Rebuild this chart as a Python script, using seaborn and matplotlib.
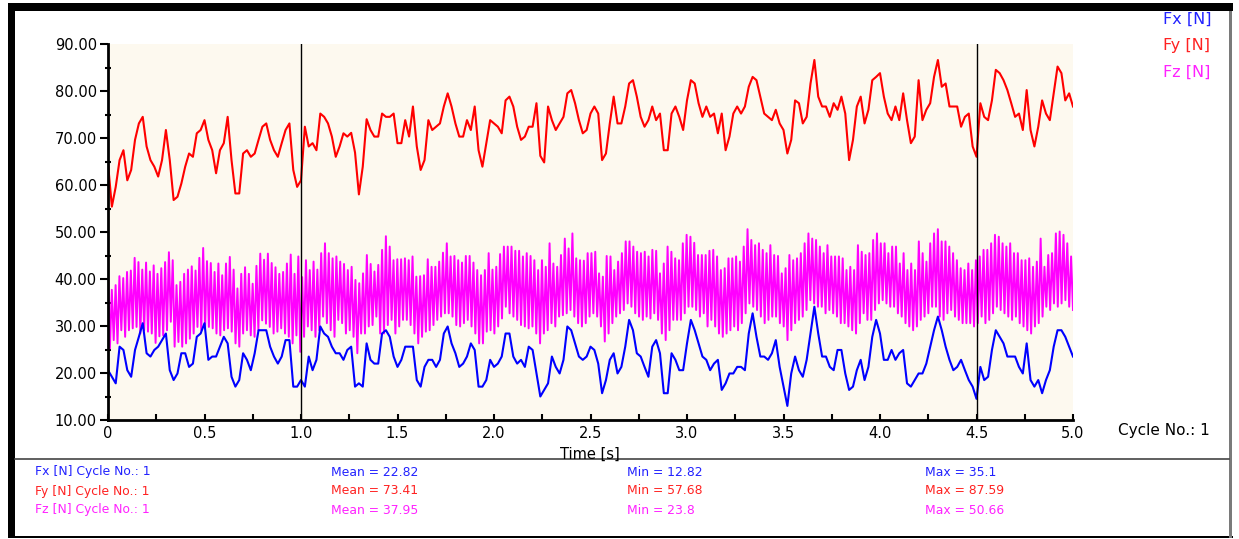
import numpy as np
import pandas as pd
import seaborn as sns
import matplotlib.pyplot as plt
from matplotlib.patches import Rectangle
from matplotlib.lines import Line2D

# Fx / Fy every 0.02 s (0 ... 5.0 s)
fx_vals = [
    20.6, 19.2, 17.8, 25.6, 24.9, 20.6, 19.2, 24.9, 27.7, 30.6,
    24.2, 23.5, 24.9, 25.6, 27.0, 28.4, 20.6, 18.5, 19.9, 24.2,
    24.2, 21.3, 22.0, 27.7, 28.4, 30.6, 22.8, 23.5, 23.5, 25.6,
    27.7, 26.3, 19.2, 17.1, 18.5, 24.2, 22.8, 20.6, 24.2, 29.1,
    29.1, 29.1, 25.6, 23.5, 22.0, 23.5, 27.0, 27.0, 17.1, 17.1,
    18.5, 17.1, 23.5, 20.6, 22.8, 29.9, 28.4, 27.7, 25.6, 24.2,
    24.2, 22.8, 24.9,
    25.6, 17.1, 17.8, 17.1, 26.3, 22.8, 22.0, 22.0, 28.4, 29.1,
    27.7, 23.5, 21.3, 22.8, 25.6, 25.6, 25.6, 18.5, 17.1, 21.3,
    22.8, 22.8, 21.3, 22.8, 28.4, 29.9, 26.3, 24.2, 21.3, 22.0,
    23.5, 26.3, 24.9, 17.1, 17.1, 18.5, 22.8, 21.3, 22.0, 23.5,
    28.4, 28.4, 23.5, 22.0, 22.8, 21.3, 25.6, 24.9, 19.9, 15.0,
    16.4, 17.8, 23.5, 21.3, 19.9, 22.8, 29.9, 29.1, 26.3, 23.5,
    22.8,
    23.5, 25.6, 24.9, 22.0, 15.7, 18.5, 22.8, 24.2, 19.9, 21.3,
    25.6, 31.3, 29.1, 24.2, 23.5, 21.3, 19.2, 25.6, 27.0, 24.2,
    15.7, 15.7, 24.2, 22.8, 20.6, 20.6, 26.3, 31.3, 29.1, 26.3,
    23.5, 22.8, 20.6, 22.0, 22.8, 16.4, 17.8, 19.9, 19.9, 21.3,
    21.3, 20.6, 28.4, 32.7, 27.7, 23.5, 23.5, 22.8, 24.2, 27.0,
    21.3, 17.1, 13.0, 19.9, 23.5, 20.6, 19.2, 22.8, 28.4, 34.1,
    28.4, 23.5,
    23.5, 21.3, 20.6, 24.9, 24.9, 19.9, 16.4, 17.1, 20.6, 22.8,
    18.5, 21.3, 27.7, 31.3, 28.4, 22.8, 22.8, 24.9, 22.8, 24.2,
    24.9, 17.8, 17.1, 18.5, 19.9, 19.9, 22.0, 25.6, 29.1, 32.0,
    29.1, 25.6, 22.8, 20.6, 21.3, 22.8, 20.6, 18.5, 17.1, 14.5,
    21.3, 18.5, 19.2, 24.9, 29.1, 27.7, 26.3, 23.5, 23.5, 23.5,
    21.3, 19.9, 26.3, 18.5, 17.1, 18.5, 15.7, 18.5, 20.6, 25.6,
    29.1, 29.1, 27.7, 25.6, 23.5,
]
fy_vals = [
    64.6, 55.4, 59.6, 65.3, 67.4, 61.0, 63.2, 69.6, 73.1, 74.5,
    68.2, 65.3, 63.9, 61.8, 65.3, 71.7, 65.3, 56.8, 57.5, 60.3,
    63.9, 66.7, 66.0, 71.0, 71.7, 73.8, 69.6, 67.4, 62.5, 67.4,
    68.9, 74.5, 65.3, 58.2, 58.2, 66.7, 67.4, 66.0, 66.7, 69.6,
    72.4, 73.1, 69.6, 67.4, 66.0, 68.9, 71.7, 73.1, 63.2, 59.6,
    61.0, 72.4, 68.2, 68.9, 67.4, 75.2, 74.5, 73.1, 70.3, 66.0,
    68.2, 71.0, 70.3,
    71.1, 66.9, 58.0, 63.9, 74.0, 71.7, 70.3, 70.3, 75.2, 74.5,
    74.5, 75.2, 68.9, 68.9, 73.8, 70.3, 76.7, 68.2, 63.2, 65.3,
    73.8, 71.7, 72.4, 73.1, 76.7, 79.5, 76.7, 73.1, 70.3, 70.3,
    73.8, 71.7, 76.7, 67.4, 63.9, 68.9, 73.8, 73.1, 72.4, 71.0,
    78.0, 78.8, 76.7, 72.4, 69.6, 70.3, 72.4, 72.4, 77.4, 66.2,
    64.8, 76.7, 73.8, 71.7, 73.1, 74.5, 79.5, 80.2, 77.4, 73.8,
    71.0,
    71.7, 75.2, 76.7, 75.2, 65.3, 66.7, 73.1, 78.8, 73.1, 73.1,
    76.7, 81.6, 82.3, 78.8, 74.5, 72.4, 73.8, 76.7, 73.8, 75.2,
    67.4, 67.4, 75.2, 76.7, 74.5, 71.7, 78.0, 82.3, 81.6, 77.4,
    74.5, 76.7, 74.5, 75.2, 71.0, 75.2, 67.4, 70.3, 75.2, 76.7,
    75.2, 76.7, 80.9, 83.0, 82.3, 78.8, 75.2, 74.5, 73.8, 76.0,
    73.1, 71.7, 66.7, 69.6, 78.0, 77.4, 73.1, 74.5, 81.6, 86.6,
    78.8, 76.7,
    76.7, 74.5, 77.4, 76.0, 78.8, 75.2, 65.3, 69.6, 76.7, 78.8,
    73.1, 76.0, 82.3, 83.0, 83.8, 78.8, 75.2, 73.8, 76.7, 73.8,
    79.5, 73.8, 68.9, 70.3, 82.3, 73.8, 76.0, 77.4, 83.0, 86.6,
    80.9, 81.6, 76.7, 76.7, 76.7, 72.4, 74.5, 75.2, 68.2, 66.0,
    77.4, 74.5, 73.8, 78.0, 84.5, 83.8, 82.3, 80.2, 77.4, 74.5,
    75.2, 71.7, 80.2, 71.7, 68.2, 72.4, 78.0, 75.2, 73.8, 79.5,
    85.2, 83.8, 78.0, 79.5, 76.7,
]
# Fz swings at ~50 Hz: top and bottom of every cycle
fz_peaks = [
    41.1, 37.7, 38.7, 40.6, 40.2, 41.5, 41.8, 44.5, 43.6, 42.0,
    43.5, 41.6, 42.9, 41.1, 42.3, 43.6, 45.7, 44.0, 38.7, 39.4,
    41.1, 42.0, 42.7, 41.8, 44.5, 46.6, 43.8, 43.4, 41.5, 43.3,
    40.8, 43.3, 44.7, 42.0, 38.0, 41.1, 42.5, 41.1, 39.0, 42.8,
    45.4, 44.1, 45.4, 43.4, 42.5, 41.1, 41.5, 43.3, 45.2, 41.1,
    44.8, 40.4,
    44.0, 41.9, 43.7, 42.0, 45.5, 47.6, 45.5, 44.4, 44.8, 43.7,
    43.2, 41.9,
    42.6, 39.8, 39.1, 41.2, 45.1, 43.2, 41.6, 43.0, 46.2, 49.1,
    46.9, 44.0, 44.2, 44.2, 44.4, 44.0, 44.8, 40.5, 40.6, 40.8,
    44.2, 42.6, 42.6, 43.7, 45.6, 47.6, 44.8, 44.9, 44.0, 43.5,
    44.9, 44.9, 43.5, 41.9, 40.8, 41.9, 45.5, 42.0, 42.6, 45.3,
    46.9, 46.9, 46.9, 46.0, 46.0, 44.8, 45.5, 44.9, 44.0, 41.9,
    44.0, 42.6, 47.6, 43.3, 42.6, 45.1, 48.6, 46.5, 49.7, 44.4,
    44.0, 43.9,
    45.5, 45.5, 45.8, 41.2, 40.5, 44.9, 44.8, 41.9, 43.7, 45.5,
    48.0, 48.0, 46.9, 45.8, 45.5, 45.8, 44.8, 46.2, 46.0, 41.2,
    43.3, 46.9, 45.8, 44.4, 44.0, 47.6, 49.4, 49.0, 47.7, 45.1,
    45.1, 45.1, 46.0, 46.2, 44.8, 41.9, 42.3, 44.4, 44.4, 44.8,
    43.7, 46.9, 50.6, 48.3, 47.2, 47.6, 46.2, 45.5, 47.2, 45.1,
    44.9, 41.2, 42.3, 45.1, 44.0, 44.4, 45.5, 47.6, 49.7, 48.6,
    48.3, 46.9, 45.5,
    47.2, 44.8, 44.8, 44.8, 44.4, 41.9, 42.6, 41.9, 47.2, 45.8,
    45.1, 45.5, 48.3, 49.7, 47.6, 47.6, 45.5, 46.9, 46.9, 43.3,
    45.5, 41.9, 43.3, 41.9, 48.0, 45.5, 43.7, 47.6, 49.7, 50.6,
    48.0, 48.0, 46.9, 45.5, 44.0, 42.3, 41.9, 43.3, 41.9, 44.0,
    44.8, 46.2, 46.2, 47.6, 49.4, 49.0, 47.6, 46.9, 47.6, 45.5,
    45.5, 44.0, 44.0, 44.4, 42.6, 43.7, 48.6, 42.6, 45.1, 45.5,
    49.7, 50.1, 49.4, 47.6, 44.8,
]
fz_troughs = [
    25.2, 27.0, 26.3, 29.1, 27.7, 29.1, 29.5, 29.8, 28.4, 29.1,
    28.8, 28.4, 26.4, 27.8, 28.0, 29.1, 30.9, 25.6, 26.6, 25.6,
    26.3, 27.3, 28.4, 29.8, 29.1, 29.5, 29.8, 29.5, 28.4, 28.0,
    29.1, 29.5, 28.8, 26.3, 25.6, 28.4, 29.1, 28.0, 27.7, 29.1,
    31.2, 30.5, 29.8, 28.4, 28.8, 29.5, 28.4, 27.7, 26.3, 28.0,
    24.5,
    27.7, 29.9, 29.1, 27.7, 29.1, 32.0, 30.6, 29.1, 27.7, 31.3,
    30.6, 28.4,
    29.1, 27.7, 24.2, 28.4, 28.4, 29.9, 30.2, 32.0, 28.4, 28.4,
    30.2, 31.3, 28.4, 29.9, 31.3, 31.3, 30.2, 28.4, 26.3, 27.7,
    28.8, 29.1, 30.2, 31.3, 32.0, 32.7, 32.7, 32.0, 30.2, 29.9,
    30.6, 31.3, 29.9, 28.4, 26.3, 26.3, 28.8, 29.1, 28.4, 29.9,
    31.6, 34.1, 32.7, 32.0, 31.3, 30.2, 29.9, 29.5, 29.9, 28.4,
    26.3, 28.4, 29.1, 30.6, 29.9, 32.0, 32.3, 32.7, 33.4, 32.0,
    30.6, 29.9, 30.6,
    32.0, 32.7, 32.0, 29.9, 26.7, 28.4, 30.6, 32.0, 32.7, 33.4,
    34.8, 34.1, 32.7, 32.0, 31.3, 32.0, 31.6, 32.7, 31.3, 28.4,
    27.0, 29.1, 31.3, 31.3, 31.3, 32.7, 34.1, 34.1, 33.4, 32.0,
    32.7, 29.9, 31.3, 29.9, 28.4, 27.7, 28.4, 29.1, 29.9, 29.1,
    30.6, 32.7, 34.8, 34.1, 33.4, 32.0, 30.6, 31.3, 32.0, 32.0,
    30.6, 29.9, 27.0, 29.1, 30.6, 31.3, 32.0, 33.4, 35.5, 34.8,
    34.1, 34.1, 32.7,
    33.4, 32.7, 32.0, 30.6, 30.6, 29.9, 29.1, 28.4, 30.6, 32.7,
    31.3, 31.3, 33.4, 34.8, 35.5, 34.8, 34.1, 34.1, 32.7, 32.0,
    30.6, 29.9, 29.1, 29.9, 31.3, 32.0, 32.7, 34.1, 34.1, 32.0,
    31.3, 32.7, 33.4, 32.0, 31.3, 30.6, 30.6, 30.6, 29.9, 30.6,
    32.0, 30.6, 31.3, 32.7, 34.1, 33.4, 32.7, 32.0, 31.3, 32.0,
    30.6, 29.9, 29.1, 28.4, 29.9, 30.6, 32.0, 34.1, 33.4, 34.8,
    34.1, 34.8, 35.5, 34.1, 33.4,
]

series = ['Fx [N]', 'Fy [N]', 'Fz [N]']
colors = {'Fx [N]': '#0000FF', 'Fy [N]': '#FF0000', 'Fz [N]': '#FF00FF'}
text_colors = ['#2222FF', '#FF2222', '#FF22FF']
means = ['22.82', '73.41', '37.95']
mins = ['12.82', '57.68', '23.8']
maxs = ['35.1', '87.59', '50.66']

x_ticks = [0, 0.5, 1.0, 1.5, 2.0, 2.5, 3.0, 3.5, 4.0, 4.5, 5.0]
x_tick_labels = ['0', '0.5', '1.0', '1.5', '2.0', '2.5', '3.0', '3.5', '4.0', '4.5', '5.0']
y_ticks = [10, 20, 30, 40, 50, 60, 70, 80, 90]
cursors = [1.0, 4.5]

# build long table
t_xy = np.round(np.arange(len(fy_vals)) * 0.02, 2)
fz_vals = np.empty(2 * len(fz_peaks))
fz_vals[0::2] = fz_peaks
fz_vals[1::2] = fz_troughs
t_z = np.linspace(0, 5.0, len(fz_vals))

df_z = pd.DataFrame({'t': t_z, 'F': fz_vals, 'series': 'Fz [N]'})
df_xy = pd.concat([
    pd.DataFrame({'t': t_xy, 'F': fy_vals, 'series': 'Fy [N]'}),
    pd.DataFrame({'t': t_xy, 'F': fx_vals, 'series': 'Fx [N]'}),
], ignore_index=True)

W, H = 1239, 539


def fx_(x):
    return x / W


def fy_(y):
    return 1 - y / H


fig = plt.figure(figsize=(W / 100, H / 100), dpi=100)
ax = fig.add_axes([fx_(108), fy_(420), (1073 - 108) / W, (420 - 44) / H])
ax.set_facecolor('#FDF9EF')

sns.lineplot(data=df_z, x='t', y='F', hue='series', palette=colors,
             estimator=None, legend=False, lw=1.4, ax=ax)
sns.lineplot(data=df_xy, x='t', y='F', hue='series', hue_order=['Fy [N]', 'Fx [N]'],
             palette=colors, estimator=None, legend=False, lw=1.5, ax=ax)

for c in cursors:
    ax.axvline(c, color='black', lw=1.0, zorder=5)

ax.set_xlim(0, 5.0)
ax.set_ylim(10, 90)
ax.set_xticks(x_ticks)
ax.set_xticklabels(x_tick_labels)
ax.set_xticks(np.arange(0, 5.01, 0.25), minor=True)
ax.set_yticks(y_ticks)
ax.set_yticklabels([f'{v:.2f}' for v in y_ticks])
ax.set_yticks(np.arange(10, 91, 5), minor=True)
ax.set_xlabel('')
ax.set_ylabel('')
for s in ['top', 'right']:
    ax.spines[s].set_visible(False)
for s in ['left', 'bottom']:
    ax.spines[s].set_linewidth(2)
    ax.spines[s].set_color('black')
ax.tick_params(axis='y', which='major', direction='out', length=6, width=1.5, labelsize=10.5, pad=2)
ax.tick_params(axis='y', which='minor', direction='inout', length=5, width=1.5)
ax.tick_params(axis='x', which='both', direction='in', length=4, width=1.5, labelsize=10.5, pad=4)

# frame
def rect(x0, y0, x1, y1, color):
    fig.add_artist(Rectangle((fx_(x0), fy_(y1)), (x1 - x0) / W, (y1 - y0) / H,
                             transform=fig.transFigure, color=color, lw=0))


rect(8, 3, 1233, 11, 'black')
rect(8, 3, 15, 538, 'black')
rect(8, 536, 1233, 538, 'black')
rect(1229, 11, 1232, 538, '#7a7a7a')
fig.add_artist(Line2D([fx_(15), fx_(1229)], [fy_(459), fy_(459)], transform=fig.transFigure,
                      color='#444444', lw=1.2))

fig.text(fx_(590), fy_(454), 'Time [s]', ha='center', va='center', fontsize=10.5)
fig.text(fx_(1118), fy_(430), 'Cycle No.: 1', ha='left', va='center', fontsize=11)

for i, name in enumerate(series):
    fig.text(fx_(1163), fy_(19 + 26.5 * i), name, color=text_colors[i], ha='left', va='center', fontsize=11.5)
    y = 472 + 19 * i
    fig.text(fx_(35), fy_(y), f'{name} Cycle No.: 1', color=text_colors[i], ha='left', va='center', fontsize=8.9)
    fig.text(fx_(331), fy_(y), f'Mean = {means[i]}', color=text_colors[i], ha='left', va='center', fontsize=8.9)
    fig.text(fx_(627), fy_(y), f'Min = {mins[i]}', color=text_colors[i], ha='left', va='center', fontsize=8.9)
    fig.text(fx_(925), fy_(y), f'Max = {maxs[i]}', color=text_colors[i], ha='left', va='center', fontsize=8.9)

fig.savefig('out.png', dpi=100)
